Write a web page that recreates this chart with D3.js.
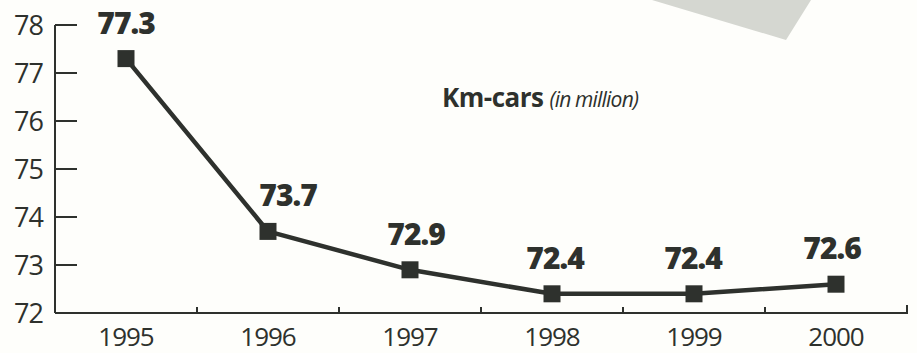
<!DOCTYPE html>
<html>
<head>
<meta charset="utf-8">
<script src="https://cdn.jsdelivr.net/npm/d3@7"></script>
<style>
    html, body { margin: 0; padding: 0; background: #fefefb; }
    svg { display: block; }
</style>
</head>
<body>
<svg id="chart" width="917" height="353"></svg>
<script>
var years = ['1995', '1996', '1997', '1998', '1999', '2000'];
var kmCars = [77.3, 73.7, 72.9, 72.4, 72.4, 72.6];
var yTicks = [72, 73, 74, 75, 76, 77, 78];
var titleMain = 'Km-cars';
var titleUnit = '(in million)';

var ink = '#2e312d';
var svg = d3.select('#chart');

// grey paper corner in the top right
svg.append('path')
    .attr('d', 'M652,0 L811,0 L786,40 Z')
    .attr('fill', '#d5d7d1');

var x = d3.scaleBand()
    .domain(years)
    .range([55, 907])
    .paddingInner(0)
    .paddingOuter(0);

var y = d3.scaleLinear()
    .domain([72, 78])
    .range([313, 25]);

// y axis: line with ticks pointing into the plot
var yAxis = svg.append('g');
yAxis.append('line')
    .attr('x1', 55).attr('x2', 55)
    .attr('y1', y(78)).attr('y2', y(72))
    .attr('stroke', ink).attr('stroke-width', 2);

yAxis.selectAll('.tick')
    .data(yTicks)
    .enter().append('line')
    .attr('x1', 55).attr('x2', 77)
    .attr('y1', function (d) { return y(d); })
    .attr('y2', function (d) { return y(d); })
    .attr('stroke', ink).attr('stroke-width', 2);

yAxis.selectAll('text')
    .data(yTicks)
    .enter().append('text')
    .attr('x', 43)
    .attr('y', function (d) { return y(d) + 10; })
    .attr('text-anchor', 'end')
    .attr('font-family', 'Open Sans')
    .attr('font-size', 27)
    .attr('letter-spacing', -1)
    .attr('fill', ink)
    .text(function (d) { return d; });

// x axis: baseline with small ticks between years
var xAxis = svg.append('g');
xAxis.append('line')
    .attr('x1', 55).attr('x2', 908)
    .attr('y1', y(72)).attr('y2', y(72))
    .attr('stroke', ink).attr('stroke-width', 2);

var bounds = years.map(function (d) { return x(d) + x.bandwidth(); });
xAxis.selectAll('.tick')
    .data(bounds)
    .enter().append('line')
    .attr('x1', function (d) { return d; })
    .attr('x2', function (d) { return d; })
    .attr('y1', y(72))
    .attr('y2', function (d, i) { return y(72) - (i === bounds.length - 1 ? 8 : 6); })
    .attr('stroke', ink).attr('stroke-width', 2);

xAxis.selectAll('text')
    .data(years)
    .enter().append('text')
    .attr('x', function (d) { return x(d) + x.bandwidth() / 2; })
    .attr('y', 346)
    .attr('text-anchor', 'middle')
    .attr('font-family', 'Open Sans')
    .attr('font-size', 26)
    .attr('letter-spacing', -1)
    .attr('fill', ink)
    .text(function (d) { return d; });

// line + square markers
var cx = function (d, i) { return x(years[i]) + x.bandwidth() / 2; };

var line = d3.line()
    .x(cx)
    .y(function (d) { return y(d); });

svg.append('path')
    .datum(kmCars)
    .attr('d', line)
    .attr('fill', 'none')
    .attr('stroke', ink)
    .attr('stroke-width', 4.5)
    .attr('stroke-linejoin', 'round');

var size = 17;
svg.selectAll('.marker')
    .data(kmCars)
    .enter().append('rect')
    .attr('x', function (d, i) { return cx(d, i) - size / 2; })
    .attr('y', function (d) { return y(d) - size / 2; })
    .attr('width', size)
    .attr('height', size)
    .attr('fill', ink);

// value labels; the 1996 one is pushed right off the steep segment
var labelDx = [0, 20, 6, 3, -1, -4];
svg.selectAll('.value')
    .data(kmCars)
    .enter().append('text')
    .attr('x', function (d, i) { return cx(d, i) + labelDx[i]; })
    .attr('y', function (d) { return y(d) - 25; })
    .attr('text-anchor', 'middle')
    .attr('font-family', 'Open Sans')
    .attr('font-weight', 800)
    .attr('font-size', 30)
    .attr('letter-spacing', -1)
    .attr('fill', ink)
    .text(function (d) { return d.toFixed(1); });

// title
var title = svg.append('text')
    .attr('x', 442)
    .attr('y', 107)
    .attr('font-family', 'Open Sans')
    .attr('fill', ink);
title.append('tspan')
    .attr('font-weight', 'bold')
    .attr('font-size', 26)
    .attr('letter-spacing', -0.5)
    .text(titleMain);
title.append('tspan')
    .attr('font-style', 'italic')
    .attr('font-size', 21)
    .attr('dx', 6)
    .attr('letter-spacing', -0.8)
    .text(titleUnit);
</script>
</body>
</html>
